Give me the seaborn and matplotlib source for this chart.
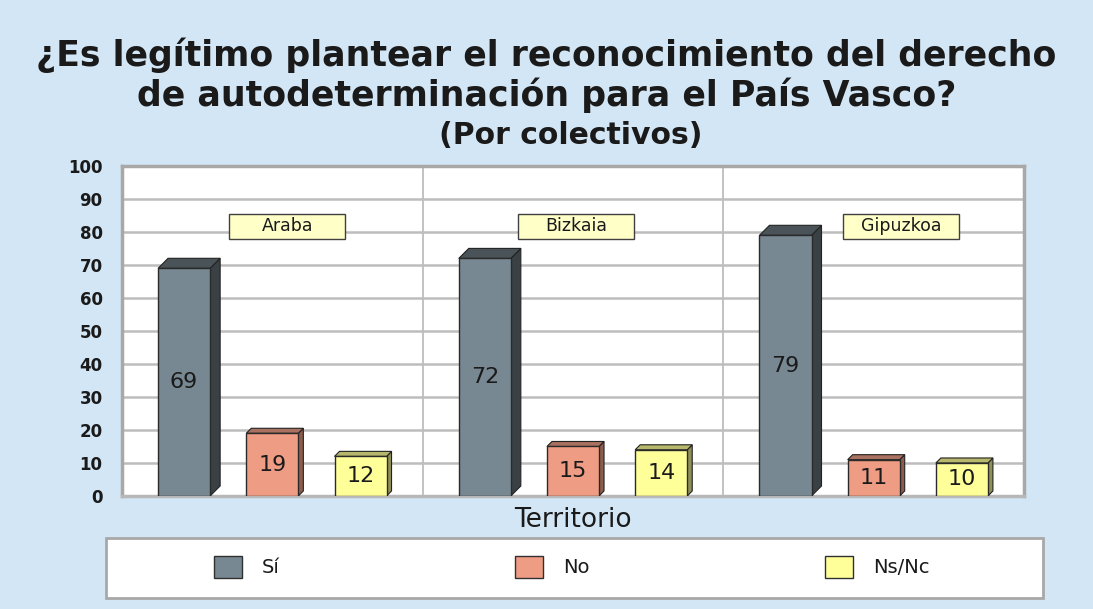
import numpy as np
import pandas as pd
import matplotlib
matplotlib.use("Agg")
import matplotlib.pyplot as plt
from matplotlib.patches import Polygon, Patch, Rectangle
import seaborn as sns

# Survey results by territory
territorios = ["Araba", "Bizkaia", "Gipuzkoa"]
respuestas = ["Sí", "No", "Ns/Nc"]
si = [69, 72, 79]
no = [19, 15, 11]
nsnc = [12, 14, 10]
y_ticks = list(range(0, 101, 10))

colores = {"Sí": "#788892", "No": "#ef9c84", "Ns/Nc": "#ffff99"}
lados = {"Sí": "#3a4145", "No": "#8e5c4d", "Ns/Nc": "#8f8f58"}
techos = {"Sí": "#4a5358", "No": "#a9715f", "Ns/Nc": "#b8b86c"}
profundidad_px = {"Sí": 10, "No": 5, "Ns/Nc": 5}

# label box placement (x in category units, y in value units)
caja_x = [0.05, 1.01, 2.09]
caja_y = 81.8
caja_w = 0.386
caja_h = 7.6

df = pd.DataFrame({
    "territorio": np.repeat(territorios, 3),
    "respuesta": respuestas * 3,
    "valor": [v for trio in zip(si, no, nsnc) for v in trio],
})

sns.set_theme(style="white")
plt.rcParams["font.family"] = ["DejaVu Sans"]

fondo = "#d3e6f5"
fig = plt.figure(figsize=(10.93, 6.09), dpi=100, facecolor=fondo)
ax = fig.add_axes([0.1116, 0.1856, 0.8253, 0.5418])
ax.set_facecolor("white")

sns.barplot(data=df, x="territorio", y="valor", hue="respuesta",
            hue_order=respuestas, order=territorios, palette=colores,
            saturation=1, width=0.88, gap=0.41, edgecolor="#2a2a2a",
            linewidth=1.0, legend=False, ax=ax, zorder=3)

ax.set_xlim(-0.5, 2.5)
ax.set_ylim(0, 100)
ax.set_yticks(y_ticks)
ax.set_yticklabels([str(t) for t in y_ticks], fontsize=12, fontweight="bold",
                   color="#1a1a1a")
ax.tick_params(axis="y", length=0, pad=14)
ax.set_xticks([])
ax.grid(axis="y", color="#bdbdbd", linewidth=1.8, zorder=0)
ax.set_axisbelow(True)
for xb in (0.5, 1.5):
    ax.axvline(xb, color="#bdbdbd", linewidth=1.3, zorder=0)

for lado in ("left", "top", "right"):
    ax.spines[lado].set_color("#a8a8a8")
    ax.spines[lado].set_linewidth(2.5)
ax.spines["bottom"].set_color("#b8b8b8")
ax.spines["bottom"].set_linewidth(2.5)

# 3D side and top faces plus value labels
fig.canvas.draw()
bbox = ax.get_window_extent()
ux = bbox.width / 3.0
uy = bbox.height / 100.0
for cont, resp in zip(ax.containers, respuestas):
    d = profundidad_px[resp]
    dx, dy = d / ux, d / uy
    for bar in cont:
        x0 = bar.get_x()
        w = bar.get_width()
        h = bar.get_height()
        x1 = x0 + w
        lado = Polygon([(x1, 0), (x1 + dx, dy), (x1 + dx, h + dy), (x1, h)],
                       closed=True, facecolor=lados[resp], edgecolor="#222222",
                       linewidth=0.8, zorder=2.9)
        techo = Polygon([(x0, h), (x0 + dx, h + dy), (x1 + dx, h + dy), (x1, h)],
                        closed=True, facecolor=techos[resp], edgecolor="#222222",
                        linewidth=0.8, zorder=2.9)
        ax.add_patch(lado)
        ax.add_patch(techo)
        ax.text(x0 + w / 2, h / 2, f"{h:.0f}", ha="center", va="center",
                fontsize=16, color="#1a1a1a", zorder=4)

# Territory name boxes
for cx, nombre in zip(caja_x, territorios):
    ax.add_patch(Rectangle((cx - caja_w / 2, caja_y - caja_h / 2), caja_w, caja_h,
                           facecolor="#ffffc8", edgecolor="#404040",
                           linewidth=1.0, zorder=5))
    ax.text(cx, caja_y, nombre, ha="center", va="center", fontsize=12.5,
            color="#1a1a1a", zorder=6)

ax.set_xlabel("Territorio", fontsize=19, color="#1a1a1a", labelpad=8)
ax.set_ylabel("")

fig.text(0.5, 0.877, "¿Es legítimo plantear el reconocimiento del derecho\n"
         "de autodeterminación para el País Vasco?", ha="center", va="center",
         fontsize=25, fontweight="bold", color="#1a1a1a", linespacing=1.15)
fig.text(0.522, 0.778, "(Por colectivos)", ha="center", va="center",
         fontsize=21.5, fontweight="bold", color="#1a1a1a")

# Legend panel
fig.patches.append(Rectangle((106 / 1093, 11 / 609), 937 / 1093, 60 / 609,
                             transform=fig.transFigure, facecolor="white",
                             edgecolor="#a8a8a8", linewidth=2.0, zorder=0))
handles = [Patch(facecolor=colores[r], edgecolor="#303030", linewidth=1.0)
           for r in respuestas]
leg = fig.legend(handles, respuestas, ncol=3, frameon=False,
                 bbox_to_anchor=(214 / 1093, 1 - 567 / 609),
                 loc="center left", borderaxespad=0, borderpad=0, fontsize=14,
                 handlelength=1.44, handleheight=1.4, handletextpad=1.03,
                 columnspacing=12.1)
for t in leg.get_texts():
    t.set_color("#1a1a1a")

fig.savefig("out.png", dpi=100, facecolor=fondo)
